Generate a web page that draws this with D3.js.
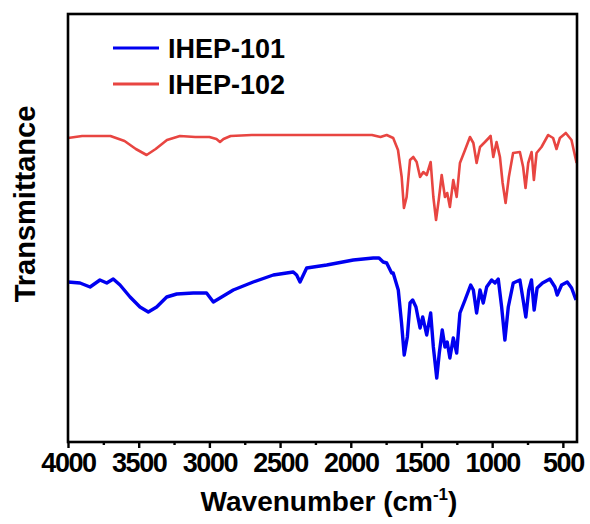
<!DOCTYPE html>
<meta charset="utf-8">
<style>
body { margin: 0; background: #fff; }
svg text { font-family: "Liberation Sans", Arial, sans-serif; font-weight: bold; fill: #000; }
</style>
<svg id="chart" width="590" height="524"></svg>
<script src="https://cdn.jsdelivr.net/npm/d3@7"></script>
<script>
// series names + colours
var seriesNames = ["IHEP-101", "IHEP-102"];
var seriesColors = ["#0000f0", "#e84541"];

// IHEP-102 (red), wavenumber vs transmittance (a.u.)
var wn102 = [4000, 3900, 3800, 3700, 3680, 3600, 3520, 3444, 3380, 3300, 3208, 3100, 3000, 2950, 2925, 2900, 2850,
  2700, 2500, 2300, 2100, 1950, 1850, 1790, 1746, 1700, 1666, 1640, 1624, 1605, 1581, 1558, 1534, 1510, 1487, 1463,
  1435, 1416, 1397, 1378, 1357, 1334, 1318, 1299, 1275, 1251, 1228, 1192, 1157, 1133, 1110, 1086, 1051, 1011, 992,
  969, 945, 926, 905, 882, 852, 804, 781, 764, 745, 721, 705, 686, 651, 604, 569, 545, 521, 479, 439, 403];
var t102 = [304, 306, 306, 306, 305, 301, 293, 287, 293, 302, 306, 305, 305, 303, 300, 303, 306,
  307, 307, 307, 307, 307, 307, 305, 307, 304, 292, 265, 234, 245, 282, 285, 280, 265, 270, 267,
  280, 245, 222, 242, 267, 245, 249, 235, 262, 245, 279, 292, 305, 299, 279, 295, 300, 306, 285,
  300, 285, 259, 239, 265, 289, 290, 275, 254, 279, 290, 262, 289, 295, 307, 304, 293, 304, 309, 302, 279];

// IHEP-101 (blue)
var wn101 = [4000, 3915, 3844, 3774, 3726, 3680, 3632, 3561, 3491, 3432, 3373, 3302, 3231, 3114, 3020, 2972, 2925,
  2831, 2690, 2548, 2407, 2383, 2359, 2312, 2170, 1982, 1841, 1800, 1771, 1746, 1711, 1700, 1664, 1641, 1622, 1600,
  1581, 1562, 1539, 1510, 1491, 1463, 1435, 1416, 1392, 1374, 1353, 1334, 1318, 1299, 1275, 1251, 1228, 1192, 1152,
  1133, 1110, 1086, 1063, 1039, 1004, 980, 957, 933, 910, 886, 851, 804, 781, 762, 741, 722, 703, 682, 644, 592,
  556, 540, 509, 469, 438, 407];
var t101 = [160, 159, 155, 162, 159, 163, 157, 145, 135, 130, 135, 145, 148, 149, 149, 140, 144,
  152, 160, 167, 170, 167, 160, 174, 177, 182, 184, 184, 180, 179, 169, 169, 152, 119, 87, 105,
  139, 142, 135, 114, 125, 107, 129, 95, 64, 89, 112, 95, 100, 84, 104, 89, 129, 142, 157,
  152, 129, 152, 139, 155, 162, 159, 163, 135, 102, 135, 159, 162, 142, 125, 152, 162, 132, 154, 159, 163,
  155, 147, 157, 160, 154, 142];

// axis ticks
var majorTicks = [4000, 3500, 3000, 2500, 2000, 1500, 1000, 500];
var minorTicks = [3750, 3250, 2750, 2250, 1750, 1250, 750];

(function() {
  var m = { left: 68, right: 577, top: 14, bottom: 442 };

  var x = d3.scaleLinear().domain([4000, 400]).range([m.left, m.right]);
  var y = d3.scaleLinear().domain([0, 428]).range([m.bottom, m.top]);

  var svg = d3.select("#chart");

  var line = d3.line()
    .x(function(d) { return x(d[0]); })
    .y(function(d) { return y(d[1]); });

  var series = [d3.zip(wn101, t101), d3.zip(wn102, t102)];
  var widths = [3.4, 2.6];

  // spectra
  svg.selectAll("path.spec")
    .data(series)
    .enter().append("path")
    .attr("class", "spec")
    .attr("fill", "none")
    .attr("stroke", function(d, i) { return seriesColors[i]; })
    .attr("stroke-width", function(d, i) { return widths[i]; })
    .attr("stroke-linejoin", "round")
    .attr("d", line);

  // frame
  svg.append("rect")
    .attr("x", m.left).attr("y", m.top)
    .attr("width", m.right - m.left).attr("height", m.bottom - m.top)
    .attr("fill", "none").attr("stroke", "#000").attr("stroke-width", 2.6);

  // x axis ticks (outside, down)
  var xAxis = d3.axisBottom(x).tickValues(majorTicks).tickSize(6).tickSizeOuter(0)
    .tickPadding(5).tickFormat(d3.format("d"));
  var gx = svg.append("g").attr("transform", "translate(0," + m.bottom + ")").call(xAxis);
  gx.select(".domain").remove();
  gx.selectAll(".tick line").attr("stroke", "#000").attr("stroke-width", 2.4);
  gx.selectAll(".tick text")
    .attr("font-family", "Liberation Sans, Arial, sans-serif")
    .attr("font-weight", "bold")
    .attr("font-size", 27)
    .attr("letter-spacing", "-1.4px")
    .attr("fill", "#000");

  var gm = svg.append("g").attr("transform", "translate(0," + m.bottom + ")")
    .call(d3.axisBottom(x).tickValues(minorTicks).tickSize(3).tickFormat(""));
  gm.select(".domain").remove();
  gm.selectAll(".tick line").attr("stroke", "#000").attr("stroke-width", 2.4);

  // axis titles
  var xt = svg.append("text")
    .attr("x", 329).attr("y", 511)
    .attr("text-anchor", "middle")
    .attr("font-size", 28);
  xt.append("tspan").text("Wavenumber (cm");
  xt.append("tspan").attr("font-size", 17).attr("dy", -11).text("-1");
  xt.append("tspan").attr("dy", 11).text(")");

  svg.append("text")
    .attr("transform", "translate(35,204) rotate(-90)")
    .attr("text-anchor", "middle")
    .attr("font-size", 29)
    .text("Transmittance");

  // legend
  var legend = svg.selectAll("g.leg")
    .data(seriesNames)
    .enter().append("g")
    .attr("class", "leg")
    .attr("transform", function(d, i) { return "translate(113," + (48 + i * 36) + ")"; });
  legend.append("line")
    .attr("x1", 0).attr("x2", 46).attr("y1", 0).attr("y2", 0)
    .attr("stroke", function(d, i) { return seriesColors[i]; })
    .attr("stroke-width", 3.2);
  legend.append("text")
    .attr("x", 55).attr("y", 10)
    .attr("font-size", 27)
    .text(function(d) { return d; });
})();
</script>
